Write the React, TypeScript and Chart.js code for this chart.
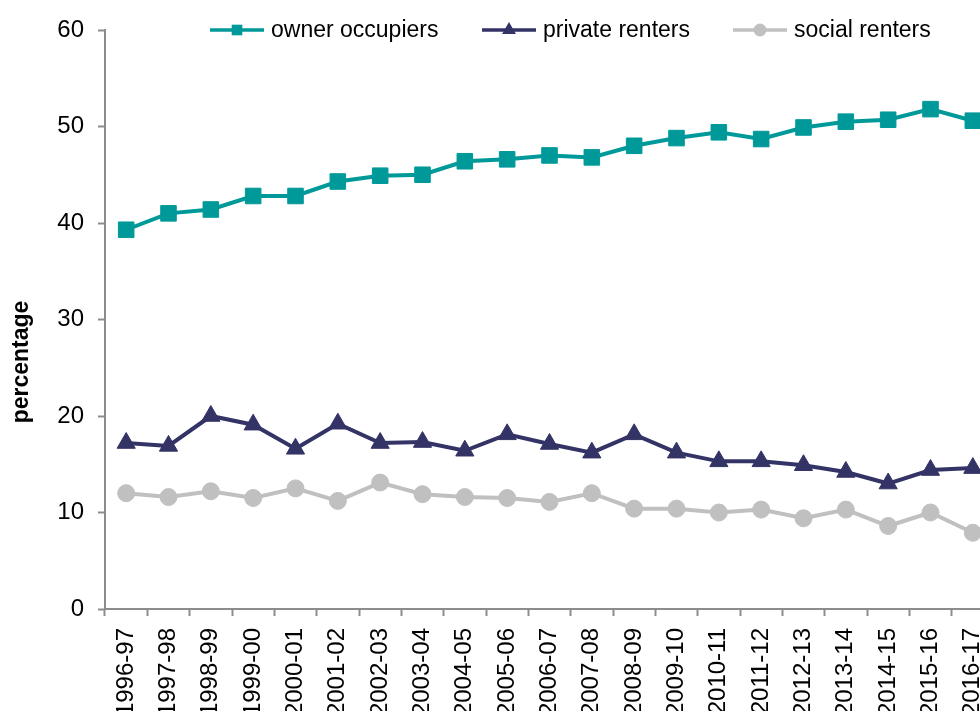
import React, { useEffect, useRef } from 'react';
import { Chart, registerables } from 'chart.js';

Chart.register(...registerables);

const categories = [
  '1996-97', '1997-98', '1998-99', '1999-00', '2000-01', '2001-02', '2002-03',
  '2003-04', '2004-05', '2005-06', '2006-07', '2007-08', '2008-09', '2009-10',
  '2010-11', '2011-12', '2012-13', '2013-14', '2014-15', '2015-16', '2016-17',
];

const ownerOccupiers = [
  39.3, 41.0, 41.4, 42.8, 42.8, 44.3, 44.9, 45.0, 46.4, 46.6, 47.0,
  46.8, 48.0, 48.8, 49.4, 48.7, 49.9, 50.5, 50.7, 51.8, 50.6,
];

const privateRenters = [
  17.2, 16.9, 20.0, 19.1, 16.6, 19.2, 17.2, 17.3, 16.4, 18.1, 17.1,
  16.2, 18.1, 16.2, 15.3, 15.3, 14.9, 14.2, 13.0, 14.4, 14.6,
];

const socialRenters = [
  12.0, 11.6, 12.2, 11.5, 12.5, 11.2, 13.1, 11.9, 11.6, 11.5, 11.1,
  12.0, 10.4, 10.4, 10.0, 10.3, 9.4, 10.3, 8.6, 10.0, 7.9,
];

const seriesNames = ['owner occupiers', 'private renters', 'social renters'];
const seriesColors = ['#009999', '#333366', '#C0C0C0'];
const seriesMarkers = ['rect', 'triangle', 'circle'];

const yMin = 0;
const yMax = 60;
const yStep = 10;
const yTitle = 'percentage';

const FONT = "'Liberation Sans', Arial, sans-serif";
const AXIS_GREY = '#8c8c8c';

function drawMarker(ctx: CanvasRenderingContext2D, style: string, x: number, y: number, r: number) {
  ctx.beginPath();
  if (style === 'rect') {
    const s = r * Math.SQRT1_2;
    ctx.rect(x - s, y - s, 2 * s, 2 * s);
  } else if (style === 'triangle') {
    let a = 0;
    ctx.moveTo(x + Math.sin(a) * r, y - Math.cos(a) * r);
    a += (2 * Math.PI) / 3;
    ctx.lineTo(x + Math.sin(a) * r, y - Math.cos(a) * r);
    a += (2 * Math.PI) / 3;
    ctx.lineTo(x + Math.sin(a) * r, y - Math.cos(a) * r);
    ctx.closePath();
  } else {
    ctx.arc(x, y, r, 0, Math.PI * 2);
  }
  ctx.fill();
}

const legendStarts = [210, 482, 733];
const legendMarkerSizes = [7.5, 8, 6.5];

const decorPlugin = {
  id: 'excelDecor',
  afterDraw(chart: any) {
    const ctx: CanvasRenderingContext2D = chart.ctx;
    ctx.save();
    // legend
    const ly = 30;
    chart.data.datasets.forEach((ds: any, i: number) => {
      const x0 = legendStarts[i];
      ctx.strokeStyle = ds.borderColor;
      ctx.fillStyle = ds.borderColor;
      ctx.lineWidth = 3.5;
      ctx.beginPath();
      ctx.moveTo(x0, ly);
      ctx.lineTo(x0 + 54, ly);
      ctx.stroke();
      drawMarker(ctx, seriesMarkers[i], x0 + 27, ly, legendMarkerSizes[i]);
      ctx.fillStyle = '#000';
      ctx.font = `23px ${FONT}`;
      ctx.textAlign = 'left';
      ctx.textBaseline = 'middle';
      ctx.fillText(ds.label, x0 + 61, ly + 1);
    });
    // y-axis title
    ctx.translate(28, 362);
    ctx.rotate(-Math.PI / 2);
    ctx.font = `bold 23px ${FONT}`;
    ctx.fillStyle = '#000';
    ctx.textAlign = 'center';
    ctx.textBaseline = 'alphabetic';
    ctx.fillText(yTitle, 0, 0);
    ctx.restore();
  },
};

export default function App() {
  const canvasRef = useRef<HTMLCanvasElement | null>(null);

  useEffect(() => {
    if (!canvasRef.current) return;
    const seriesData = [ownerOccupiers, privateRenters, socialRenters];
    const chart = new Chart(canvasRef.current, {
      type: 'line',
      data: {
        labels: categories,
        datasets: seriesData.map((d, i) => ({
          label: seriesNames[i],
          data: d,
          borderColor: seriesColors[i],
          backgroundColor: seriesColors[i],
          pointBackgroundColor: seriesColors[i],
          pointBorderColor: seriesColors[i],
          pointStyle: seriesMarkers[i] as any,
          pointRadius: i === 0 ? 11 : i === 1 ? 10.5 : 8.5,
          pointBorderWidth: 1,
          borderWidth: 4,
          tension: 0,
          fill: false,
        })),
      },
      plugins: [decorPlugin],
      options: {
        animation: false,
        responsive: true,
        maintainAspectRatio: false,
        layout: { padding: { left: 0, top: 30, right: 5, bottom: 0 } },
        plugins: {
          legend: { display: false },
          tooltip: { enabled: false },
          title: { display: false },
        },
        scales: {
          x: {
            type: 'category',
            offset: true,
            grid: {
              offset: true,
              drawOnChartArea: false,
              drawTicks: true,
              tickLength: 7,
              tickWidth: 2,
              tickColor: AXIS_GREY,
            },
            border: { display: true, color: AXIS_GREY, width: 2 },
            ticks: {
              autoSkip: false,
              minRotation: 90,
              maxRotation: 90,
              padding: 12,
              color: '#000',
              font: { family: FONT, size: 24 },
            },
            afterFit: (scale: any) => {
              scale.height = 151;
              scale.paddingRight = 0;
              scale.paddingLeft = 0;
            },
          },
          y: {
            min: yMin,
            max: yMax,
            grid: {
              drawOnChartArea: false,
              drawTicks: true,
              tickLength: 7,
              tickWidth: 2,
              tickColor: AXIS_GREY,
            },
            border: { display: true, color: AXIS_GREY, width: 2 },
            ticks: {
              stepSize: yStep,
              padding: 14,
              color: '#000',
              font: { family: FONT, size: 24 },
            },
            afterFit: (scale: any) => {
              scale.width = 105;
            },
          },
        },
      },
    });
    return () => chart.destroy();
  }, []);

  return (
    <div
      style={{
        position: 'fixed',
        left: 0,
        top: 0,
        width: 980,
        height: 711,
        overflow: 'hidden',
        background: '#fff',
      }}
    >
      <div style={{ position: 'relative', width: 1006, height: 760 }}>
        <canvas ref={canvasRef} />
      </div>
    </div>
  );
}
